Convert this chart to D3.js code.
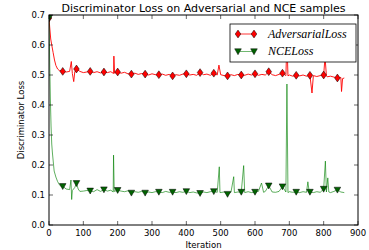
<!DOCTYPE html>
<html>
<head>
<meta charset="utf-8">
<script src="https://cdn.jsdelivr.net/npm/d3@7"></script>
<style>
  body { margin: 0; background: #fff; }
</style>
</head>
<body>
<div id="chart"></div>
<script>
const advIters = [0, 2, 5, 8, 12, 16, 20, 25, 30, 40, 50, 60, 65, 68, 72, 75, 80, 90, 100, 110, 120, 130, 140, 150, 160, 170, 180, 188, 189, 191, 200, 210, 220, 230, 240, 250, 260, 270, 280, 290, 300, 310, 320, 330, 340, 350, 360, 370, 380, 390, 400, 410, 420, 430, 440, 450, 460, 470, 480, 490, 495, 500, 510, 520, 530, 540, 550, 560, 570, 580, 590, 600, 610, 620, 630, 640, 650, 660, 670, 680, 690, 693, 696, 700, 710, 720, 730, 740, 750, 760, 766, 770, 780, 790, 800, 804, 808, 810, 820, 830, 840, 850, 852, 855, 860]
const advLoss = [0.69, 0.66, 0.62, 0.60, 0.575, 0.55, 0.532, 0.52, 0.515, 0.512, 0.51, 0.512, 0.545, 0.505, 0.478, 0.51, 0.52, 0.512, 0.508, 0.51, 0.512, 0.508, 0.511, 0.507, 0.51, 0.508, 0.511, 0.505, 0.563, 0.506, 0.51, 0.506, 0.509, 0.504, 0.503, 0.506, 0.502, 0.505, 0.503, 0.50, 0.504, 0.501, 0.501, 0.503, 0.499, 0.502, 0.497, 0.501, 0.499, 0.503, 0.504, 0.50, 0.502, 0.499, 0.508, 0.501, 0.503, 0.499, 0.506, 0.50, 0.533, 0.501, 0.498, 0.497, 0.501, 0.498, 0.502, 0.50, 0.499, 0.503, 0.50, 0.504, 0.499, 0.502, 0.50, 0.511, 0.501, 0.498, 0.502, 0.506, 0.498, 0.62, 0.497, 0.50, 0.496, 0.499, 0.497, 0.50, 0.496, 0.499, 0.44, 0.498, 0.495, 0.498, 0.50, 0.56, 0.497, 0.494, 0.496, 0.493, 0.49, 0.492, 0.445, 0.488, 0.49]

// NCE loss
const nceIters = [0, 2, 4, 6, 8, 10, 15, 20, 25, 30, 35, 40, 50, 60, 64, 66, 68, 75, 80, 85, 90, 100, 110, 120, 130, 140, 150, 160, 170, 180, 187, 188, 190, 200, 210, 220, 230, 240, 250, 260, 270, 280, 290, 300, 310, 320, 330, 340, 350, 360, 370, 380, 390, 400, 410, 420, 430, 440, 450, 460, 470, 480, 490, 496, 498, 510, 520, 530, 538, 540, 550, 560, 567, 570, 580, 590, 600, 610, 619, 625, 630, 640, 650, 660, 670, 680, 690, 693, 696, 700, 710, 720, 730, 740, 750, 754, 758, 760, 770, 780, 790, 800, 805, 808, 812, 815, 820, 830, 840, 850, 860]
const nceLoss = [0.69, 0.55, 0.42, 0.33, 0.27, 0.24, 0.18, 0.16, 0.145, 0.135, 0.128, 0.129, 0.12, 0.118, 0.15, 0.085, 0.115, 0.125, 0.139, 0.12, 0.112, 0.113, 0.115, 0.114, 0.111, 0.118, 0.112, 0.118, 0.113, 0.116, 0.11, 0.233, 0.112, 0.116, 0.113, 0.111, 0.114, 0.107, 0.111, 0.109, 0.112, 0.107, 0.11, 0.108, 0.111, 0.11, 0.108, 0.112, 0.109, 0.11, 0.108, 0.111, 0.109, 0.112, 0.108, 0.11, 0.107, 0.106, 0.11, 0.108, 0.111, 0.112, 0.109, 0.194, 0.108, 0.11, 0.103, 0.109, 0.161, 0.108, 0.11, 0.11, 0.198, 0.108, 0.111, 0.108, 0.11, 0.112, 0.14, 0.109, 0.112, 0.131, 0.11, 0.109, 0.112, 0.128, 0.11, 0.47, 0.108, 0.111, 0.109, 0.11, 0.108, 0.111, 0.109, 0.144, 0.109, 0.11, 0.108, 0.111, 0.109, 0.12, 0.213, 0.11, 0.157, 0.11, 0.108, 0.112, 0.117, 0.11, 0.108]

const xTicks = [0, 100, 200, 300, 400, 500, 600, 700, 800, 900]
const yTicks = [0.0, 0.1, 0.2, 0.3, 0.4, 0.5, 0.6, 0.7]
const MARK_EVERY = 40

const W = 369, H = 250
const plot = { left: 49, right: 358, top: 15, bottom: 225 }
const SANS = "'DejaVu Sans', sans-serif"

const svg = d3.select("#chart").append("svg")
    .attr("width", W)
    .attr("height", H)
    .style("font-family", SANS)

const x = d3.scaleLinear().domain([0, 900]).range([plot.left, plot.right])
const y = d3.scaleLinear().domain([0, 0.7]).range([plot.bottom, plot.top])

svg.append("defs").append("clipPath").attr("id", "clip")
    .append("rect")
    .attr("x", plot.left).attr("y", plot.top)
    .attr("width", plot.right - plot.left).attr("height", plot.bottom - plot.top)

// marker shapes
const diamond = "M0,-3.9L2.8,0L0,3.9L-2.8,0Z"
const triDown = "M-3.3,-2.7L3.3,-2.7L0,3.2Z"

const series = [
    { name: "AdversarialLoss", xs: advIters, ys: advLoss, line: "#ff0000", lineOp: 1, fill: "#ff0000", shape: diamond },
    { name: "NCELoss", xs: nceIters, ys: nceLoss, line: "#008000", lineOp: 0.7, fill: "#006400", shape: triDown }
]

const line = d3.line()
    .x(d => x(d[0]))
    .y(d => y(d[1]))

const g = svg.append("g").attr("clip-path", "url(#clip)")

series.forEach(function (s) {
    const pts = s.xs.map((v, i) => [v, s.ys[i]])
    g.append("path")
        .datum(pts)
        .attr("d", line)
        .attr("fill", "none")
        .attr("stroke", s.line)
        .attr("stroke-opacity", s.lineOp)
        .attr("stroke-width", 0.9)
})
series.forEach(function (s) {
    const pts = s.xs.map((v, i) => [v, s.ys[i]]).filter(d => d[0] % MARK_EVERY === 0)
    g.selectAll(null)
        .data(pts)
        .enter().append("path")
        .attr("d", s.shape)
        .attr("transform", d => "translate(" + x(d[0]) + "," + y(d[1]) + ")")
        .attr("fill", s.fill)
        .attr("stroke", "#000")
        .attr("stroke-width", 0.5)
})

// frame
svg.append("rect")
    .attr("x", plot.left).attr("y", plot.top)
    .attr("width", plot.right - plot.left).attr("height", plot.bottom - plot.top)
    .attr("fill", "none").attr("stroke", "#000").attr("stroke-width", 1)

// ticks (inward, on all four sides)
const TL = 4
xTicks.forEach(function (t) {
    svg.append("line").attr("x1", x(t)).attr("x2", x(t)).attr("y1", plot.bottom).attr("y2", plot.bottom - TL).attr("stroke", "#000").attr("stroke-width", 0.6)
    svg.append("line").attr("x1", x(t)).attr("x2", x(t)).attr("y1", plot.top).attr("y2", plot.top + TL).attr("stroke", "#000").attr("stroke-width", 0.6)
    svg.append("text").attr("x", x(t)).attr("y", 236)
        .attr("text-anchor", "middle").attr("font-size", 8.5).text(t)
})
yTicks.forEach(function (t) {
    svg.append("line").attr("x1", plot.left).attr("x2", plot.left + TL).attr("y1", y(t)).attr("y2", y(t)).attr("stroke", "#000").attr("stroke-width", 0.6)
    svg.append("line").attr("x1", plot.right).attr("x2", plot.right - TL).attr("y1", y(t)).attr("y2", y(t)).attr("stroke", "#000").attr("stroke-width", 0.6)
    svg.append("text").attr("x", 45).attr("y", y(t) + 3)
        .attr("text-anchor", "end").attr("font-size", 8.5).text(d3.format(".1f")(t))
})

// title + axis labels
svg.append("text").attr("x", (plot.left + plot.right) / 2).attr("y", 12)
    .attr("text-anchor", "middle").attr("font-size", 11)
    .text("Discriminator Loss on Adversarial and NCE samples")
svg.append("text").attr("x", (plot.left + plot.right) / 2).attr("y", 248)
    .attr("text-anchor", "middle").attr("font-size", 8.5).text("Iteration")
svg.append("text")
    .attr("transform", "translate(24," + ((plot.top + plot.bottom) / 2) + ") rotate(-90)")
    .attr("text-anchor", "middle").attr("font-size", 8.5).text("Discriminator Loss")

// legend
const leg = svg.append("g")
leg.append("rect")
    .attr("x", 230).attr("y", 24).attr("width", 126).attr("height", 38)
    .attr("fill", "#fff").attr("stroke", "#000").attr("stroke-width", 0.8)
series.forEach(function (s, i) {
    const ly = 34 + i * 17.5
    leg.append("line").attr("x1", 238).attr("x2", 254).attr("y1", ly).attr("y2", ly)
        .attr("stroke", s.line).attr("stroke-opacity", s.lineOp).attr("stroke-width", 0.8)
    ;[238, 254].forEach(function (mx) {
        leg.append("path").attr("d", s.shape)
            .attr("transform", "translate(" + mx + "," + ly + ")")
            .attr("fill", s.fill).attr("stroke", "#000").attr("stroke-width", 0.5)
    })
    leg.append("text").attr("x", 268).attr("y", ly + 3.8)
        .style("font-family", "'Liberation Serif', 'DejaVu Serif', serif")
        .style("font-style", "italic")
        .attr("font-size", 12).text(s.name)
})
</script>
</body>
</html>
